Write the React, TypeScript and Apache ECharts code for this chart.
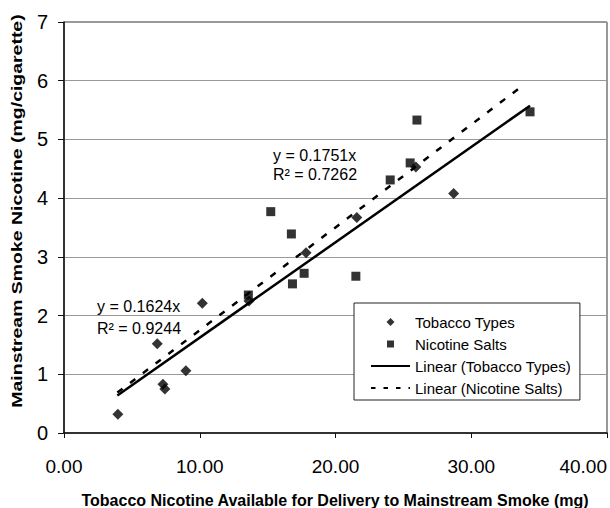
import React, { useEffect, useRef } from "react";
import * as echarts from "echarts";

// ---- data ----
const tobaccoX = [3.97, 6.87, 7.29, 7.43, 8.98, 10.19, 13.63, 17.83, 21.57, 25.92, 28.7];
const tobaccoY = [0.32, 1.52, 0.83, 0.75, 1.06, 2.21, 2.25, 3.07, 3.67, 4.53, 4.08];
const saltsX = [13.58, 15.23, 16.75, 16.83, 17.69, 21.5, 24.03, 25.5, 26.0, 34.33];
const saltsY = [2.35, 3.77, 3.39, 2.54, 2.72, 2.67, 4.31, 4.6, 5.33, 5.47];

const tobaccoSlope = 0.1624;
const saltsSlope = 0.1751;
const tobaccoTrendX = [3.93, 34.33];
const saltsTrendX = [3.93, 33.95];

const seriesNames = [
  "Tobacco Types",
  "Nicotine Salts",
  "Linear (Tobacco Types)",
  "Linear (Nicotine Salts)",
];
const eqTobacco = ["y = 0.1624x", "R² = 0.9244"];
const eqSalts = ["y = 0.1751x", "R² = 0.7262"];
const xTitle = "Tobacco Nicotine Available for Delivery to Mainstream Smoke (mg)";
const yTitle = "Mainstream Smoke Nicotine (mg/cigarette)";

const FONT = "Arial, 'Liberation Sans', Helvetica, sans-serif";

// legend icons: a small marker centred in a 39x8 box (zero-area anchors fix the box)
const ANCHORS = "M0,4L0.01,4Z M39,4L38.99,4Z ";
const DIAMOND_ICON = "path://" + ANCHORS + "M19.5,0L23.5,4L19.5,8L15.5,4Z";
const SQUARE_ICON = "path://" + ANCHORS + "M16,0.5L23,0.5L23,7.5L16,7.5Z";

export default function App() {
  const ref = useRef<HTMLDivElement>(null);

  useEffect(() => {
    if (!ref.current) return;
    const chart = echarts.init(ref.current, undefined, { renderer: "svg" });

    const txt = (text: string, x: number, y: number, size: number, extra: any = {}) => ({
      type: "text",
      x,
      y,
      ...extra,
      style: {
        text,
        fontSize: size,
        fontFamily: FONT,
        fontWeight: extra.bold ? "bold" : "normal",
        fill: "#000",
        align: extra.align || "left",
        textAlign: extra.align || "left",
        verticalAlign: "middle",
        textVerticalAlign: "middle",
      },
    });

    const noSymbol = { color: "rgba(0,0,0,0)", borderWidth: 0, opacity: 0 };

    chart.setOption({
      animation: false,
      backgroundColor: "#fff",
      textStyle: { fontFamily: FONT, color: "#000" },
      grid: {
        left: 64,
        right: 3,
        top: 22,
        bottom: 75,
        show: true,
        borderColor: "#333",
        borderWidth: 1,
        backgroundColor: "transparent",
      },
      xAxis: {
        type: "value",
        min: 0,
        max: 40,
        interval: 10,
        axisLine: { show: true, lineStyle: { color: "#111", width: 1.5 } },
        axisTick: { show: true, inside: false, length: 5, lineStyle: { color: "#111" } },
        splitLine: { show: false },
        axisLabel: {
          formatter: (v: number) => v.toFixed(2),
          fontSize: 19,
          color: "#000",
          fontFamily: FONT,
          margin: 24,
          alignMaxLabel: "right",
        },
      },
      yAxis: {
        type: "value",
        min: 0,
        max: 7,
        interval: 1,
        axisLine: { show: true, lineStyle: { color: "#111", width: 1.5 } },
        axisTick: { show: true, inside: false, length: 6, lineStyle: { color: "#111" } },
        splitLine: { show: true, lineStyle: { color: "#999", width: 1 } },
        axisLabel: { fontSize: 20, color: "#000", fontFamily: FONT, margin: 16 },
      },
      legend: {
        orient: "vertical",
        left: 354,
        top: 303,
        padding: [11, 9, 4, 16],
        itemWidth: 39,
        itemHeight: 8,
        itemGap: 6,
        symbolKeepAspect: true,
        borderColor: "#222",
        borderWidth: 1,
        backgroundColor: "#fff",
        textStyle: { fontSize: 15, color: "#000", fontFamily: FONT, lineHeight: 16 },
        data: [
          { name: seriesNames[0], icon: DIAMOND_ICON },
          { name: seriesNames[1], icon: SQUARE_ICON },
          { name: seriesNames[2], itemStyle: noSymbol },
          { name: seriesNames[3], itemStyle: noSymbol, lineStyle: { type: [4.5, 8] } },
        ],
      },
      series: [
        {
          name: seriesNames[0],
          type: "scatter",
          symbol: "diamond",
          symbolSize: 11,
          itemStyle: { color: "#000" },
          data: tobaccoX.map((x, i) => [x, tobaccoY[i]]),
          z: 3,
        },
        {
          name: seriesNames[1],
          type: "scatter",
          symbol: "rect",
          symbolSize: 9,
          itemStyle: { color: "#000" },
          data: saltsX.map((x, i) => [x, saltsY[i]]),
          z: 3,
        },
        {
          name: seriesNames[2],
          type: "line",
          symbol: "none",
          showSymbol: false,
          lineStyle: { color: "#000", width: 2.5, type: "solid" },
          itemStyle: { color: "#000" },
          data: tobaccoTrendX.map((x) => [x, tobaccoSlope * x]),
          z: 2,
        },
        {
          name: seriesNames[3],
          type: "line",
          symbol: "none",
          showSymbol: false,
          lineStyle: { color: "#000", width: 2.5, type: [6.5, 9.5] },
          itemStyle: { color: "#000" },
          data: saltsTrendX.map((x) => [x, saltsSlope * x]),
          z: 2,
        },
      ],
      graphic: [
        txt(eqSalts[0], 273, 155, 16),
        txt(eqSalts[1], 273, 174, 16),
        txt(eqTobacco[0], 97, 306, 16),
        txt(eqTobacco[1], 97, 328, 16),
        txt(xTitle, 335, 500, 16, { bold: true, align: "center" }),
        txt(yTitle, 17, 211, 14, { bold: true, align: "center", rotation: Math.PI / 2, scaleX: 1.39 }),
      ],
    });

    return () => chart.dispose();
  }, []);

  return (
    <div
      ref={ref}
      style={{ position: "fixed", left: 0, top: 0, width: 610, height: 508, background: "#fff" }}
    />
  );
}
